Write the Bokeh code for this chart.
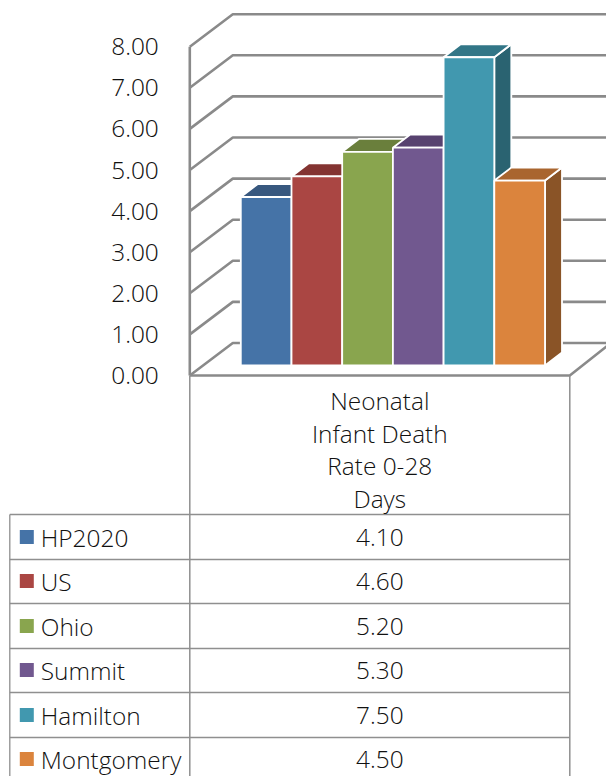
from bokeh.plotting import figure
from bokeh.models import LinearAxis, FixedTicker, Range1d
from bokeh.core.properties import value
from bokeh.embed import file_html
from bokeh.resources import INLINE

series = ["HP2020", "US", "Ohio", "Summit", "Hamilton", "Montgomery"]
values = [4.10, 4.60, 5.20, 5.30, 7.50, 4.50]
ticks = [0, 1, 2, 3, 4, 5, 6, 7, 8]
category_lines = ["Neonatal", "Infant Death", "Rate 0-28", "Days"]
front = ["#4573a7", "#aa4643", "#89a54e", "#71588f", "#4198af", "#db843d"]
topc = ["#38587f", "#843432", "#6a7f3c", "#57426f", "#327687", "#a9652f"]
sidec = ["#2f4a6c", "#6e2b29", "#586932", "#49375d", "#2a6371", "#8a5427"]

FONT = "Open Sans Light"
FS = "24.4px"
TXT = "#111111"
GRID = "#8a8a8a"
SCALE = 41.1   # px per value unit
ZERO = 375
BAR = 50.7
BAR0 = 241

W, H = 606, 776
def X(px):  # image px to x units (one unit = one bar width)
    return (px - BAR0) / BAR
def Y(py):  # image px to value units
    return (ZERO - py) / SCALE

p = figure(width=W, height=H, output_backend="svg", toolbar_location=None,
           x_range=Range1d(X(0.7), X(606.7)), y_range=Range1d(Y(776), Y(0)),
           x_axis_location=None, y_axis_location=None, min_border=0,
           outline_line_color=None, background_fill_color="white")
p.grid.visible = False

# walls and gridlines
DX, DY = X(233) - X(190), 32.5 / SCALE
x0, x1, x2 = X(190), X(570), X(607)
for t in ticks:
    p.line([x0, x0 + DX, x2], [t, t + DY, t + DY], line_color=GRID, line_width=2.6)
p.line([x0, x0], [0, 8], line_color=GRID, line_width=2.6)
p.line([x0, x1, x1 + 38 / BAR], [0, 0, 30 / SCALE], line_color=GRID, line_width=2.6)

# bars
base = 10 / SCALE
sx, sy = 17 / BAR, 13 / SCALE
for i, (v, f, tc, sc) in enumerate(zip(values, front, topc, sidec)):
    top = base + v
    p.patch([i + 1, i + 1 + sx, i + 1 + sx, i + 1], [base, base + sy, top + sy, top],
            fill_color=sc, line_color="white", line_width=1.8)
    p.patch([i, i + sx, i + 1 + sx, i + 1], [top, top + sy, top + sy, top],
            fill_color=tc, line_color="white", line_width=1.8)
    p.quad(left=[i], right=[i + 1], bottom=[base], top=[top],
           fill_color=f, line_color="white", line_width=1.8)

# value axis
axis = LinearAxis(fixed_location=x0, ticker=FixedTicker(ticks=ticks),
                  major_label_overrides={t: f"{t:.2f}" for t in ticks},
                  axis_line_color=None, major_tick_line_color=None, minor_tick_line_color=None,
                  major_label_standoff=25, major_label_text_font=FONT,
                  major_label_text_font_size=FS, major_label_text_color=TXT)
p.add_layout(axis, "left")

# table
rows = [514, 559, 603, 648, 692, 737]
TAB = "#8f8f8f"
for r in rows:
    p.line([X(10), x1], [Y(r), Y(r)], line_color=TAB, line_width=1.3)
p.line([X(10), X(10)], [Y(514), Y(776)], line_color=TAB, line_width=1.3)
p.line([x0, x0], [0, Y(776)], line_color=TAB, line_width=1.5)
p.line([x1, x1], [0, Y(776)], line_color=TAB, line_width=1.5)

xc = X(380)
p.text([xc] * 4, [Y(y) for y in (400, 433, 465, 498)], text=category_lines,
       text_font=value(FONT), text_font_size=FS, text_color=TXT,
       text_align="center", text_baseline="middle")

centers = [Y(y) for y in (536.5, 580.5, 625.5, 669.5, 714.5, 758.5)]
p.text([xc] * 6, centers, text=[f"{v:.2f}" for v in values],
       text_font=value(FONT), text_font_size=FS, text_color=TXT,
       text_align="center", text_baseline="middle")
p.text([X(41)] * 6, centers, text=series,
       text_font=value(FONT), text_font_size=FS, text_color=TXT,
       text_align="left", text_baseline="middle")
p.scatter([X(27)] * 6, centers, marker="square", size=14, fill_color=front, line_color=None)

open("out.html", "w").write(file_html(p, INLINE))
